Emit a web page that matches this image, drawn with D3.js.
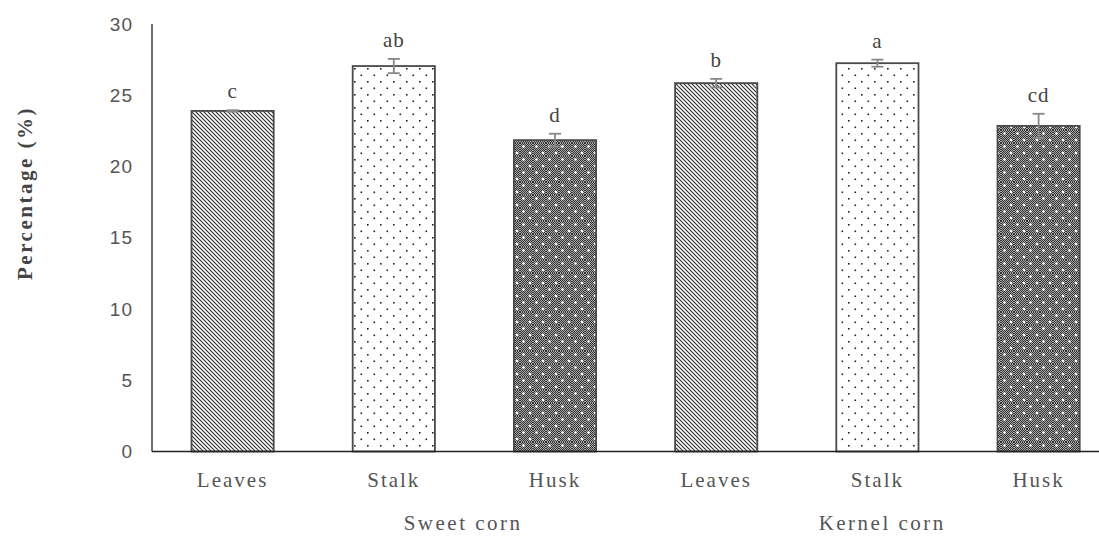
<!DOCTYPE html>
<html>
<head>
<meta charset="utf-8">
<script src="https://cdn.jsdelivr.net/npm/d3@7"></script>
<style>
  body { margin: 0; background: #fff; }
</style>
</head>
<body>
<svg width="1099" height="537"></svg>
<script>
// data
const categories = ["Leaves", "Stalk", "Husk", "Leaves", "Stalk", "Husk"];
const values = [23.9, 27.05, 21.85, 25.85, 27.25, 22.85];
const errors = [0.05, 0.5, 0.45, 0.3, 0.25, 0.85];
const letters = ["c", "ab", "d", "b", "a", "cd"];
const fills = ["hatch", "dots", "dark", "hatch", "dots", "dark"];
const groups = ["Sweet corn", "Kernel corn"];
const groupPos = [1.43, 4.03]; // label centre, in bar index units
const yTicks = [0, 5, 10, 15, 20, 25, 30];

const width = 1099;
const height = 537;
const margin = { left: 152, top: 24, bottom: 86 };
const plotBottom = height - margin.bottom + 0.5;
const serif = "'Liberation Serif', 'Times New Roman', serif";

const svg = d3.select("svg").attr("font-family", serif);
const defs = svg.append("defs");

// diagonal lines for leaves
const hatch = defs.append("pattern")
  .attr("id", "hatch")
  .attr("patternUnits", "userSpaceOnUse")
  .attr("width", 4).attr("height", 4);
hatch.append("rect").attr("width", 4).attr("height", 4).attr("fill", "#fff");
hatch.append("path")
  .attr("d", "M-1,-1 L5,5 M-1,3 L1,5 M3,-1 L5,1")
  .attr("stroke", "#333").attr("stroke-width", 1.2);

// sparse dots for stalk
const dots = defs.append("pattern")
  .attr("id", "dots")
  .attr("patternUnits", "userSpaceOnUse")
  .attr("width", 13).attr("height", 13);
dots.append("rect").attr("width", 13).attr("height", 13).attr("fill", "#fff");
dots.append("rect").attr("x", 3).attr("y", 3).attr("width", 1.6).attr("height", 1.6).attr("fill", "#222");
dots.append("rect").attr("x", 9.5).attr("y", 9.5).attr("width", 1.6).attr("height", 1.6).attr("fill", "#222");

// dark checker with white dots for husk
const checker = defs.append("pattern")
  .attr("id", "checker")
  .attr("patternUnits", "userSpaceOnUse")
  .attr("width", 2).attr("height", 2);
checker.append("rect").attr("width", 2).attr("height", 2).attr("fill", "#a8a8a8");
checker.append("rect").attr("width", 1).attr("height", 1).attr("fill", "#333");
checker.append("rect").attr("x", 1).attr("y", 1).attr("width", 1).attr("height", 1).attr("fill", "#333");

const dark = defs.append("pattern")
  .attr("id", "dark")
  .attr("patternUnits", "userSpaceOnUse")
  .attr("width", 13).attr("height", 13);
dark.append("rect").attr("width", 13).attr("height", 13).attr("fill", "url(#checker)");
dark.append("circle").attr("cx", 3.5).attr("cy", 3.5).attr("r", 1.3).attr("fill", "#fff");
dark.append("circle").attr("cx", 10).attr("cy", 10).attr("r", 1.3).attr("fill", "#fff");

const x = d3.scaleBand()
  .domain(d3.range(categories.length))
  .range([margin.left, margin.left + 6 * 161.2])
  .paddingInner(0.49)
  .paddingOuter(0.245);

const y = d3.scaleLinear()
  .domain([0, 30])
  .range([plotBottom, margin.top]);

// y tick labels
svg.append("g")
  .selectAll("text")
  .data(yTicks)
  .join("text")
  .attr("x", 133)
  .attr("y", (d) => y(d))
  .attr("dy", "0.35em")
  .attr("text-anchor", "end")
  .attr("font-family", "'Liberation Sans', sans-serif")
  .attr("font-size", 19)
  .attr("letter-spacing", 1)
  .attr("fill", "#555")
  .text((d) => d);

// bars
svg.append("g")
  .selectAll("rect")
  .data(values)
  .join("rect")
  .attr("x", (d, i) => x(i))
  .attr("y", (d) => y(d))
  .attr("width", x.bandwidth())
  .attr("height", (d) => y(0) - y(d))
  .attr("fill", (d, i) => `url(#${fills[i]})`)
  .attr("stroke", "#4a4a4a")
  .attr("stroke-width", 1.8);

// error bars
const err = svg.append("g").attr("stroke", "#888").attr("stroke-width", 1.8);
values.forEach((v, i) => {
  const cx = x(i) + x.bandwidth() / 2;
  err.append("line")
    .attr("x1", cx).attr("x2", cx)
    .attr("y1", y(v + errors[i])).attr("y2", y(v - errors[i]));
  [v + errors[i], v - errors[i]].forEach((e) => {
    err.append("line")
      .attr("x1", cx - 6).attr("x2", cx + 6)
      .attr("y1", y(e)).attr("y2", y(e));
  });
});

// significance letters
svg.append("g")
  .selectAll("text")
  .data(letters)
  .join("text")
  .attr("x", (d, i) => x(i) + x.bandwidth() / 2)
  .attr("y", (d, i) => y(values[i] + errors[i]) - 12)
  .attr("text-anchor", "middle")
  .attr("font-size", 21)
  .attr("letter-spacing", 1)
  .attr("fill", "#444")
  .text((d) => d);

// axes lines
svg.append("line")
  .attr("x1", margin.left).attr("x2", margin.left)
  .attr("y1", margin.top).attr("y2", plotBottom)
  .attr("stroke", "#222").attr("stroke-width", 1.3);
svg.append("line")
  .attr("x1", margin.left).attr("x2", width)
  .attr("y1", plotBottom).attr("y2", plotBottom)
  .attr("stroke", "#222").attr("stroke-width", 1.3);

// category labels
svg.append("g")
  .selectAll("text")
  .data(categories)
  .join("text")
  .attr("x", (d, i) => x(i) + x.bandwidth() / 2)
  .attr("y", 487)
  .attr("text-anchor", "middle")
  .attr("font-size", 21)
  .attr("letter-spacing", 2)
  .attr("fill", "#555")
  .text((d) => d);

// group labels
const step = x.step();
svg.append("g")
  .selectAll("text")
  .data(groups)
  .join("text")
  .attr("x", (d, i) => x(0) + x.bandwidth() / 2 + groupPos[i] * step)
  .attr("y", 530)
  .attr("text-anchor", "middle")
  .attr("font-size", 21)
  .attr("letter-spacing", 2.5)
  .attr("fill", "#555")
  .text((d) => d);

// y axis title
svg.append("text")
  .attr("transform", "translate(32, 193) rotate(-90)")
  .attr("text-anchor", "middle")
  .attr("font-size", 21)
  .attr("font-weight", "bold")
  .attr("letter-spacing", 2.5)
  .attr("fill", "#444")
  .text("Percentage (%)");
</script>
</body>
</html>
